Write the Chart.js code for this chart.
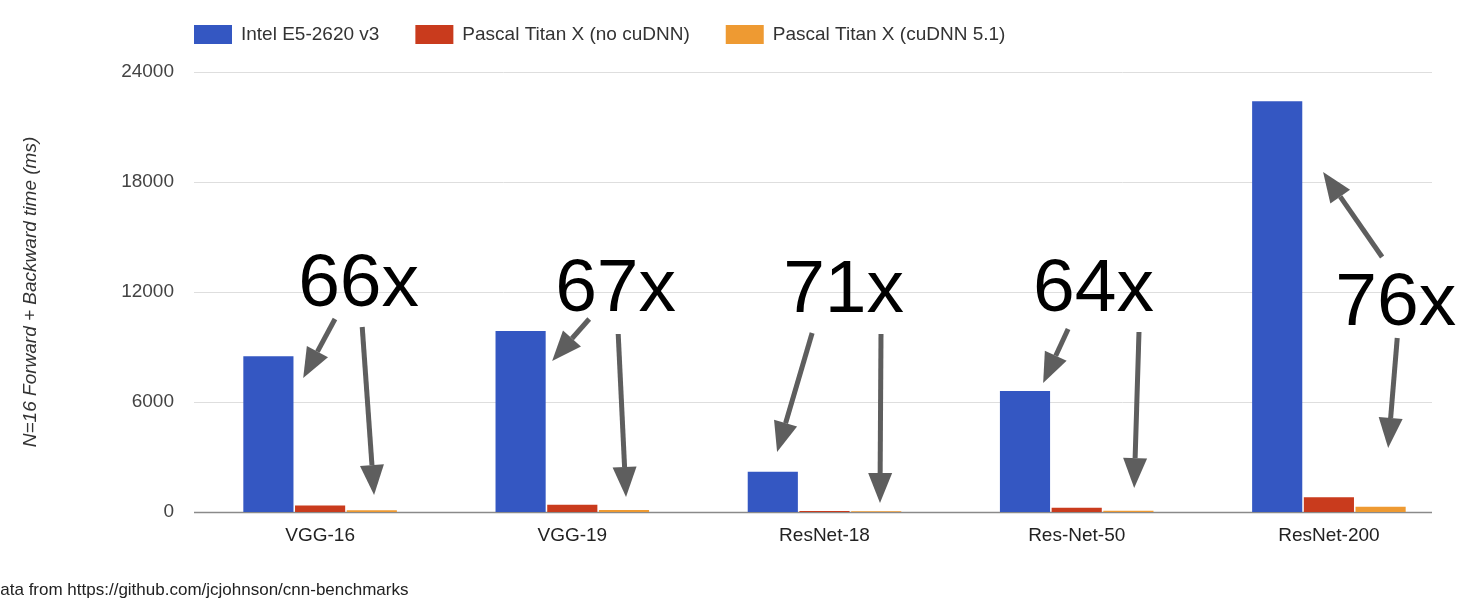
<!DOCTYPE html>
<html>
<head>
<meta charset="utf-8">
<script src="https://cdn.jsdelivr.net/npm/chart.js@4"></script>
<style>
  html, body { margin: 0; padding: 0; background: #fff; }
  #wrap { width: 1466px; height: 608px; position: relative; }
</style>
</head>
<body>
<div id="wrap"><canvas id="my-bar-chart"></canvas></div>
<script>
// data (ms)
const categories = ['VGG-16', 'VGG-19', 'ResNet-18', 'Res-Net-50', 'ResNet-200'];
const seriesNames = ['Intel E5-2620 v3', 'Pascal Titan X (no cuDNN)', 'Pascal Titan X (cuDNN 5.1)'];
const cpuTimes = [8500, 9870, 2200, 6600, 22400];
const noCudnnTimes = [360, 390, 60, 230, 800];
const cudnnTimes = [100, 110, 35, 75, 280];
const yTicks = [0, 6000, 12000, 18000, 24000];
const speedups = ['66x', '67x', '71x', '64x', '76x'];

// annotation anchors in chart units: [category position, value]
const speedupPos = [[-0.087, 11236], [0.932, 10964], [1.836, 10909], [2.827, 10964], [4.025, 10200]];
const arrows = [
    [[0.059, 10527], [-0.067, 7309]],
    [[0.167, 10091], [0.214, 927]],
    [[1.067, 10527], [0.920, 8236]],
    [[1.182, 9709], [1.213, 818]],
    [[1.951, 9764], [1.812, 3273]],
    [[2.224, 9709], [2.220, 491]],
    [[2.966, 9982], [2.867, 7036]],
    [[3.247, 9818], [3.228, 1309]],
    [[4.211, 13909], [3.977, 18545]],
    [[4.271, 9491], [4.235, 3491]]
];

const colors = ['#3457c2', '#c93b1d', '#ee9a32'];
const FONT = '"Liberation Sans", Arial, sans-serif';

function catX(chart, c) {
    const xs = chart.scales.x;
    const step = (xs.right - xs.left) / categories.length;
    return xs.left + (c + 0.5) * step;
}

const overlay = {
    id: 'overlay',
    beforeDatasetsDraw(chart) {
        const ctx = chart.ctx;
        const ys = chart.scales.y;
        const area = chart.chartArea;
        const right = area.right - 23;
        ctx.save();
        yTicks.forEach(t => {
            const y = Math.round(ys.getPixelForValue(t)) + 0.5;
            ctx.strokeStyle = t === 0 ? '#8a8a8a' : '#dedede';
            ctx.lineWidth = t === 0 ? 1.5 : 1;
            ctx.beginPath();
            ctx.moveTo(area.left, y);
            ctx.lineTo(right, y);
            ctx.stroke();
        });
        ctx.restore();
    },
    afterDraw(chart) {
        const ctx = chart.ctx;
        const ys = chart.scales.y;
        ctx.save();

        // legend
        ctx.font = '19px ' + FONT;
        ctx.textBaseline = 'middle';
        let lx = 194;
        chart.data.datasets.forEach((ds, i) => {
            ctx.fillStyle = ds.backgroundColor;
            ctx.fillRect(lx, 25, 38, 19);
            ctx.fillStyle = '#333';
            ctx.fillText(ds.label, lx + 47, 35);
            lx += 47 + ctx.measureText(ds.label).width + 36;
        });

        // source note (cut at the left edge like the slide)
        ctx.font = '17px ' + FONT;
        ctx.fillStyle = '#222';
        ctx.textBaseline = 'alphabetic';
        ctx.fillText('Data from https://github.com/jcjohnson/cnn-benchmarks', -12, 595);

        // arrows
        ctx.strokeStyle = '#5e5e5e';
        ctx.fillStyle = '#5e5e5e';
        ctx.lineWidth = 5;
        arrows.forEach(a => {
            const x1 = catX(chart, a[0][0]), y1 = ys.getPixelForValue(a[0][1]);
            const x2 = catX(chart, a[1][0]), y2 = ys.getPixelForValue(a[1][1]);
            const ang = Math.atan2(y2 - y1, x2 - x1);
            const hl = 30, hw = 12;
            const bx = x2 - hl * Math.cos(ang), by = y2 - hl * Math.sin(ang);
            ctx.beginPath();
            ctx.moveTo(x1, y1);
            ctx.lineTo(bx, by);
            ctx.stroke();
            ctx.beginPath();
            ctx.moveTo(x2, y2);
            ctx.lineTo(bx + hw * Math.sin(ang), by - hw * Math.cos(ang));
            ctx.lineTo(bx - hw * Math.sin(ang), by + hw * Math.cos(ang));
            ctx.closePath();
            ctx.fill();
        });

        // speedup labels
        ctx.font = '75px ' + FONT;
        ctx.fillStyle = '#000';
        ctx.textAlign = 'left';
        speedups.forEach((s, i) => {
            ctx.fillText(s, catX(chart, speedupPos[i][0]), ys.getPixelForValue(speedupPos[i][1]));
        });
        ctx.restore();
    }
};

const config = {
    type: 'bar',
    data: {
        labels: categories,
        datasets: [cpuTimes, noCudnnTimes, cudnnTimes].map((d, i) => ({
            label: seriesNames[i],
            data: d,
            backgroundColor: colors[i],
            categoryPercentage: 0.615,
            barPercentage: 0.97
        }))
    },
    options: {
        responsive: true,
        maintainAspectRatio: false,
        animation: false,
        layout: { padding: { top: 72, right: 11, bottom: 36, left: 0 } },
        plugins: {
            legend: { display: false },
            tooltip: { enabled: false }
        },
        scales: {
            x: {
                grid: { display: false, drawTicks: false },
                border: { display: false },
                ticks: { color: '#222', font: { family: FONT, size: 19 }, padding: 12 },
                afterFit(scale) { scale.height = 60; }
            },
            y: {
                min: 0,
                max: 24000,
                grid: { display: false, drawTicks: false },
                border: { display: false },
                ticks: {
                    stepSize: 6000,
                    color: '#444',
                    font: { family: FONT, size: 19 },
                    padding: 20,
                    callback: v => String(v)
                },
                title: {
                    display: true,
                    text: 'N=16 Forward + Backward time (ms)',
                    color: '#333',
                    font: { family: FONT, size: 19, style: 'italic' },
                    padding: { top: 19, bottom: 0 }
                },
                afterFit(scale) { scale.width = 194; }
            }
        }
    },
    plugins: [overlay]
};

new Chart(document.querySelector('#my-bar-chart'), config);
</script>
</body>
</html>
